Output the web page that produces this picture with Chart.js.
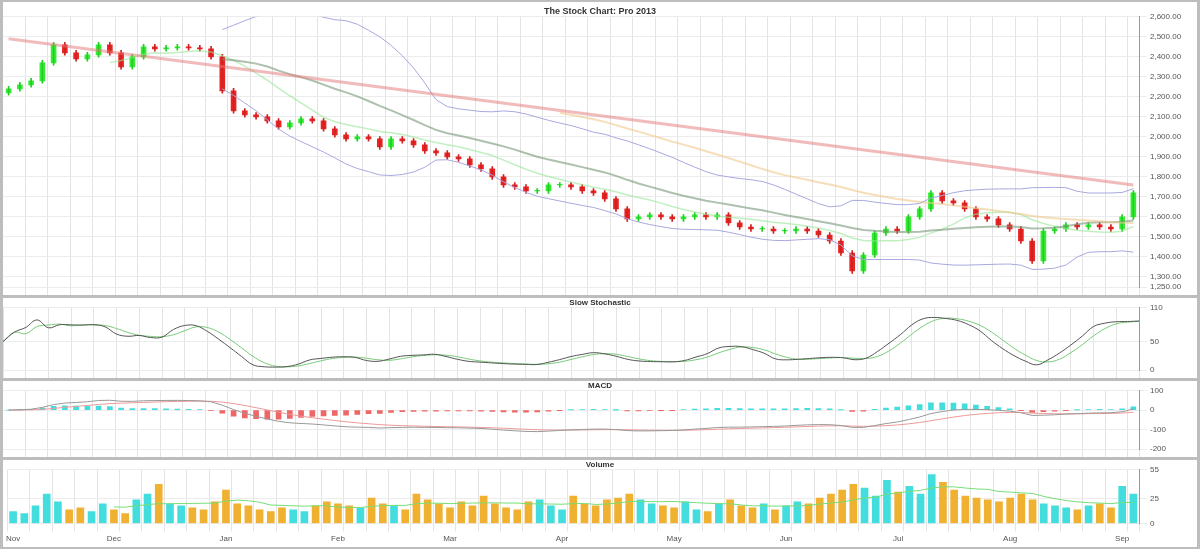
<!DOCTYPE html><html><head><meta charset="utf-8">
<script src="https://cdn.jsdelivr.net/npm/chart.js@4"></script>
<style>
body{margin:0;background:#bdbdbd;width:1200px;height:549px;overflow:hidden;font-family:"DejaVu Sans",sans-serif}
.p{position:absolute;left:3px;width:1194px;background:#fff}
canvas{display:block}
</style></head><body>
<div class="p" style="top:2px;height:293px"><canvas id="c1"></canvas></div>
<div class="p" style="top:298px;height:80px"><canvas id="c2"></canvas></div>
<div class="p" style="top:381px;height:76px"><canvas id="c3"></canvas></div>
<div class="p" style="top:460px;height:87px"><canvas id="c4"></canvas></div>
<script>
const title="The Stock Chart: Pro 2013";
const closes=[2240,2260,2280,2370,2460,2420,2390,2410,2460,2420,2350,2400,2450,2440,2445,2450,2445,2440,2400,2230,2130,2110,2100,2080,2050,2070,2090,2080,2040,2010,1990,2000,1990,1950,1990,1980,1960,1930,1920,1900,1890,1860,1840,1800,1760,1750,1730,1730,1760,1760,1750,1730,1720,1690,1640,1590,1600,1610,1600,1590,1600,1610,1600,1610,1570,1550,1540,1540,1530,1530,1540,1530,1510,1480,1420,1330,1410,1520,1540,1530,1600,1640,1720,1680,1670,1640,1600,1590,1560,1540,1480,1380,1530,1540,1560,1550,1560,1550,1540,1600,1720];
const volumes=[12,10,18,30,22,14,16,12,20,14,10,24,30,40,20,18,16,14,22,34,20,18,14,12,16,14,12,18,22,20,18,16,26,20,18,14,30,24,20,16,22,18,28,20,16,14,22,24,18,14,28,20,18,24,26,30,24,20,18,16,22,14,12,20,24,18,16,20,14,18,22,20,26,30,34,40,36,28,44,32,38,30,50,42,34,28,26,24,22,26,30,24,20,18,16,14,18,20,16,38,30];
const monthTicks={0:"Nov",9:"Dec",19:"Jan",29:"Feb",39:"Mar",49:"Apr",59:"May",69:"Jun",79:"Jul",89:"Aug",99:"Sep"};
const labels=closes.map((_,i)=>i);
const opens=closes.map((c,i)=>i?closes[i-1]:c-20);
function sma(a,n){return a.map((_,i)=>i<n-1?null:a.slice(i-n+1,i+1).reduce((s,v)=>s+v,0)/n);}
function sd(a,n){return a.map((_,i)=>{if(i<n-1)return null;const s=a.slice(i-n+1,i+1),m=s.reduce((x,y)=>x+y,0)/n;return Math.sqrt(s.reduce((x,y)=>x+(y-m)**2,0)/n);});}
function ema(a,n){const k=2/(n+1);let e=a[0];return a.map(v=>e=v*k+e*(1-k));}
const m20=sma(closes,20),s20=sd(closes,20);
const bbU=m20.map((m,i)=>m==null?null:m+2*s20[i]),bbL=m20.map((m,i)=>m==null?null:m-2*s20[i]);
const longMA=closes.map((_,i)=>i==0?2490:(i==100?1760:null));
const RW=58;
const fix=s=>{s.width=RW};
const xgrid={color:(c)=>c.index%2?'rgba(0,0,0,0)':'#e3e3e3'};
const ygrid={color:'#ececec'};
const xAxis=(show)=>({grid:xgrid,ticks:{display:show,autoSkip:false,maxRotation:0,font:{size:8},color:'#555',callback:(v)=>monthTicks[v]??''},border:{display:false}});
const yAxis=(o)=>Object.assign({position:'right',grid:ygrid,afterFit:fix,ticks:{font:{size:8},color:'#555'},border:{color:'#999'}},o);
Chart.defaults.animation=false;Chart.defaults.responsive=false;
function mk(id,h,cfg){const c=document.getElementById(id);c.width=1194;c.height=h;return new Chart(c,cfg);}
const up=closes.map((c,i)=>c>=opens[i]);
mk('c1',293,{type:'bar',data:{labels,datasets:[
 {type:'line',data:longMA,spanGaps:true,borderColor:'rgba(230,120,120,0.5)',borderWidth:3,pointRadius:0},
 {type:'line',data:bbU,borderColor:'#a8a8e0',borderWidth:1,pointRadius:0},
 {type:'line',data:bbL,borderColor:'#a8a8e0',borderWidth:1,pointRadius:0},
 {type:'line',data:sma(closes,50),borderColor:'rgba(240,200,140,0.6)',borderWidth:2,pointRadius:0},
 {type:'line',data:m20,borderColor:'rgba(120,150,120,0.6)',borderWidth:2,pointRadius:0},
 {type:'line',data:sma(closes,10),borderColor:'rgba(150,230,150,0.6)',borderWidth:1.5,pointRadius:0},
 {data:closes.map((c,i)=>[Math.min(c,opens[i])-12,Math.max(c,opens[i])+12]),backgroundColor:up.map(u=>u?'#22cc22':'#cc2222'),barThickness:1,grouped:false},
 {data:closes.map((c,i)=>[opens[i],c+(c==opens[i]?3:0)]),backgroundColor:up.map(u=>u?'#33ee33':'#ee2222'),barThickness:5,grouped:false}
]},options:{layout:{padding:{top:4}},plugins:{legend:{display:false},title:{display:true,text:title,font:{size:9},color:'#333',padding:0}},
 scales:{x:xAxis(false),y:yAxis({min:1250,max:2600,ticks:{stepSize:100,font:{size:8},color:'#555',callback:v=>v.toLocaleString('en-US',{minimumFractionDigits:2})}})}}});
const lo=closes.map((_,i)=>Math.min(...closes.slice(Math.max(0,i-7),i+1))-20),hi=closes.map((_,i)=>Math.max(...closes.slice(Math.max(0,i-7),i+1))+20);
const k=closes.map((c,i)=>100*(c-lo[i])/(hi[i]-lo[i]));
const st=sma(k,5).map((v,i)=>v??k[i]);
mk('c2',80,{type:'line',data:{labels,datasets:[{data:st,borderColor:'#555',borderWidth:1,pointRadius:0,tension:.4},{data:sma(st,3).map((v,i)=>v??st[i]),borderColor:'#7c7',borderWidth:1,pointRadius:0,tension:.4}]},
 options:{plugins:{legend:{display:false},title:{display:true,text:'Slow Stochastic',font:{size:8},color:'#333',padding:0}},scales:{x:xAxis(false),y:yAxis({min:0,max:110,ticks:{stepSize:50,font:{size:8},color:'#555'}})}}});
const e12=ema(closes,12),e26=ema(closes,26),macd=e12.map((v,i)=>v-e26[i]),sig=ema(macd,9),hist=macd.map((v,i)=>v-sig[i]);
mk('c3',76,{type:'bar',data:{labels,datasets:[
 {type:'line',data:macd,borderColor:'#999',borderWidth:1,pointRadius:0},
 {type:'line',data:sig,borderColor:'#e99',borderWidth:1,pointRadius:0},
 {data:hist,backgroundColor:hist.map(v=>v>=0?'#4dd':'#e66'),barThickness:5}]},
 options:{plugins:{legend:{display:false},title:{display:true,text:'MACD',font:{size:8},color:'#333',padding:0}},scales:{x:xAxis(false),y:yAxis({ticks:{maxTicksLimit:4,font:{size:8},color:'#555'}})}}});
mk('c4',87,{type:'bar',data:{labels,datasets:[
 {type:'line',data:sma(volumes,10),borderColor:'#7d7',borderWidth:1,pointRadius:0},
 {data:volumes,backgroundColor:up.map(u=>u?'#44dddd':'#f0b030'),barThickness:7}]},
 options:{plugins:{legend:{display:false},title:{display:true,text:'Volume',font:{size:8},color:'#333',padding:0}},scales:{x:xAxis(true),y:yAxis({min:0,max:55,ticks:{stepSize:25,font:{size:8},color:'#555'}})}}});
</script></body></html>
